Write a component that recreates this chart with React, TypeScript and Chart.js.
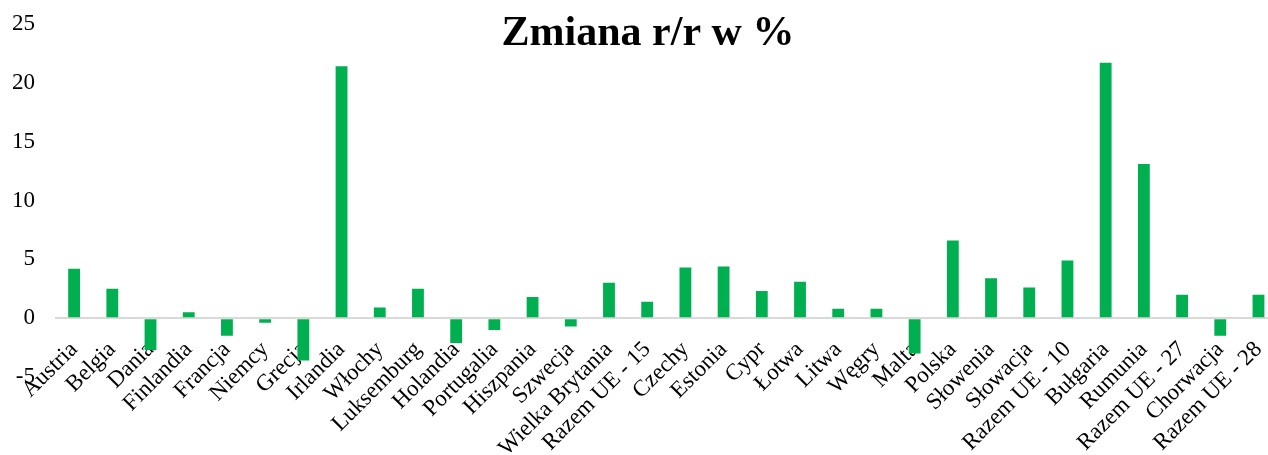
import React, { useEffect, useRef } from "react";
import { Chart, registerables } from "chart.js";

Chart.register(...registerables);

const categories = [
  "Austria", "Belgia", "Dania", "Finlandia", "Francja", "Niemcy", "Grecja", "Irlandia",
  "Włochy", "Luksemburg", "Holandia", "Portugalia", "Hiszpania", "Szwecja", "Wielka Brytania",
  "Razem UE - 15", "Czechy", "Estonia", "Cypr", "Łotwa", "Litwa", "Węgry", "Malta", "Polska",
  "Słowenia", "Słowacja", "Razem UE - 10", "Bułgaria", "Rumunia", "Razem UE - 27", "Chorwacja",
  "Razem UE - 28",
];

const values = [
  4.2, 2.5, -2.7, 0.5, -1.5, -0.4, -3.6, 21.4,
  0.9, 2.5, -2.1, -1.0, 1.8, -0.7, 3.0,
  1.4, 4.3, 4.4, 2.3, 3.1, 0.8, 0.8, -3.0, 6.6,
  3.4, 2.6, 4.9, 21.7, 13.1, 2.0, -1.5,
  2.0,
];

const titleText = "Zmiana r/r w %";
const yMin = -5;
const yMax = 25;
const yStep = 5;

const FONT = "'Liberation Serif', 'Times New Roman', serif";

export default function App() {
  const ref = useRef<HTMLCanvasElement | null>(null);

  useEffect(() => {
    if (!ref.current) return;
    const titlePlugin = {
      id: "titleOverlay",
      afterDraw(chart: any) {
        const ctx = chart.ctx;
        ctx.save();
        ctx.font = `bold 42px ${FONT}`;
        ctx.fillStyle = "#000";
        ctx.textAlign = "center";
        ctx.textBaseline = "alphabetic";
        ctx.fillText(titleText, 648, 45);
        ctx.restore();
      },
    };
    const chart = new Chart(ref.current, {
      type: "bar",
      data: {
        labels: categories,
        datasets: [
          {
            data: values,
            backgroundColor: "#00b050",
            borderWidth: 0,
            barPercentage: 0.31,
            categoryPercentage: 1,
          },
        ],
      },
      options: {
        animation: false,
        responsive: true,
        maintainAspectRatio: false,
        layout: { padding: { top: 24, right: 0, bottom: 78, left: 0 } },
        plugins: {
          legend: { display: false },
          tooltip: { enabled: false },
          title: { display: false },
        },
        scales: {
          x: {
            position: { y: 0 },
            grid: { display: false, drawTicks: false },
            border: { display: false },
            ticks: {
              autoSkip: false,
              maxRotation: 45,
              minRotation: 45,
              padding: 18,
              color: "#000",
              font: { family: FONT, size: 23 },
            },
          },
          y: {
            min: yMin,
            max: yMax,
            ticks: {
              stepSize: yStep,
              padding: 0,
              color: "#000",
              font: { family: FONT, size: 23 },
            },
            grid: {
              drawTicks: true,
              tickLength: 20,
              tickColor: "rgba(0,0,0,0)",
              lineWidth: 2,
              color: (c: any) => (c.tick && c.tick.value === 0 ? "#d9d9d9" : "rgba(0,0,0,0)"),
            },
            border: { display: false },
            afterFit: (scale: any) => {
              scale.width = 55;
            },
          },
        },
      },
      plugins: [titlePlugin],
    });
    return () => chart.destroy();
  }, []);

  return (
    <div style={{ position: "absolute", left: 0, top: 0, width: 1268, height: 455, overflow: "hidden", background: "#fff" }}>
      <div style={{ position: "relative", width: 1296, height: 455 }}>
        <canvas ref={ref} />
      </div>
    </div>
  );
}
